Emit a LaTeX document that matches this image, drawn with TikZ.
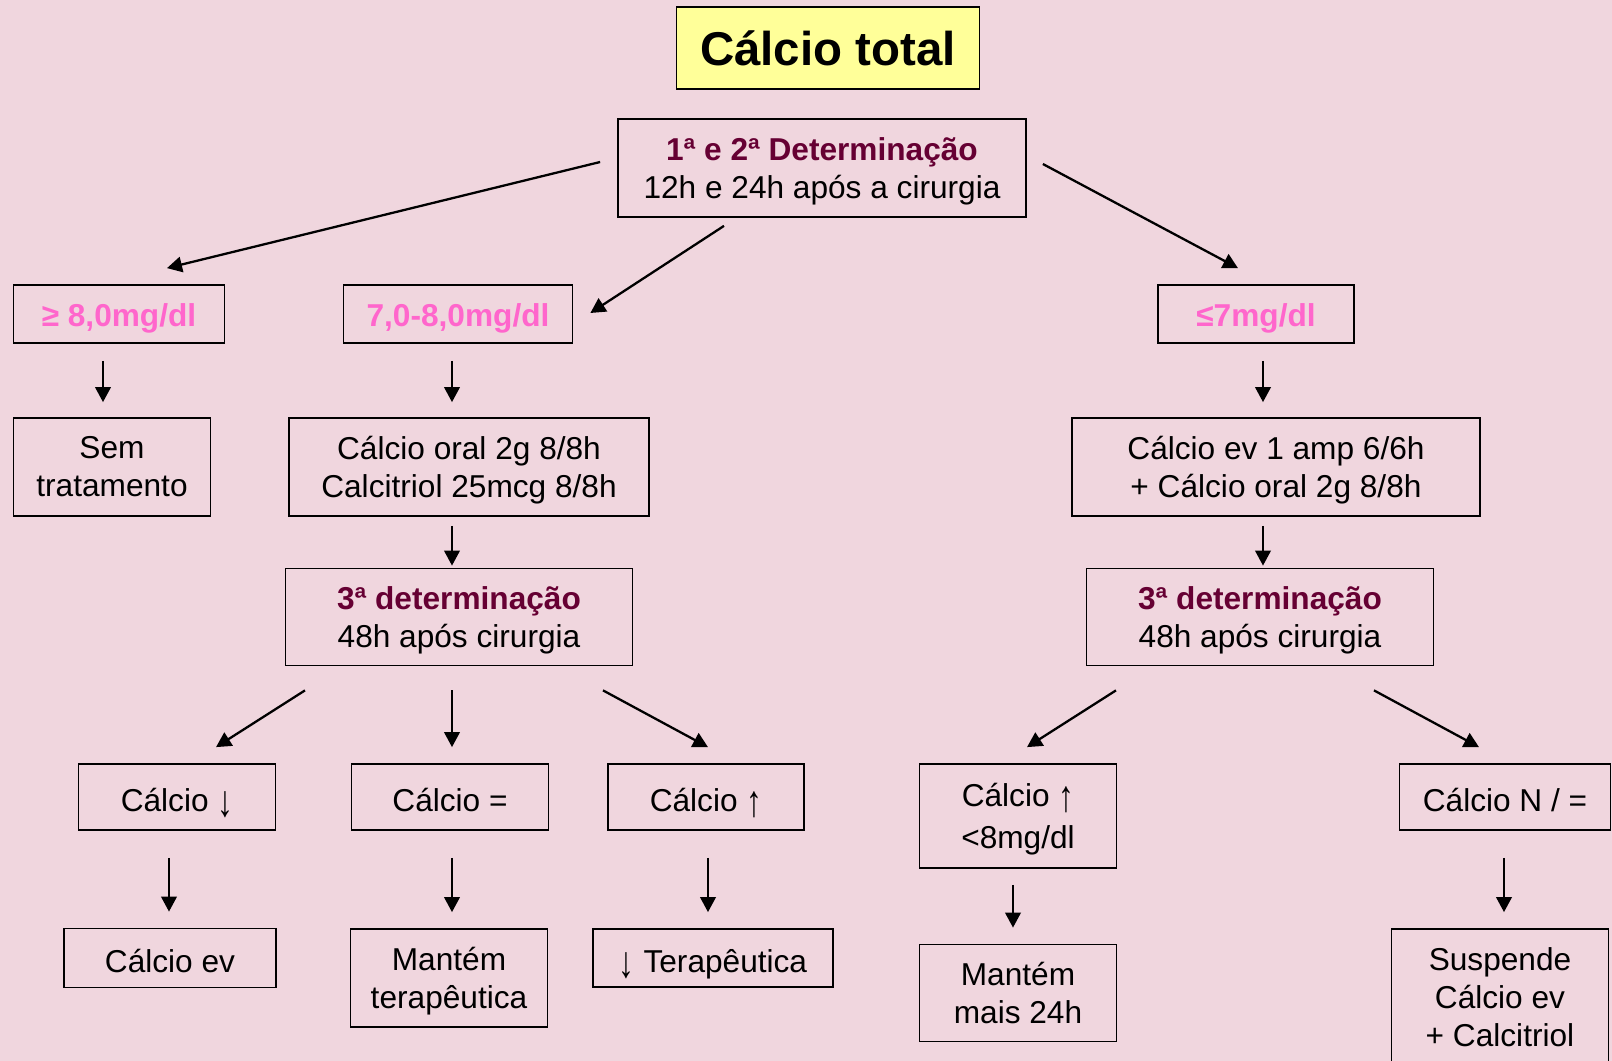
\documentclass[tikz,border=0pt]{standalone}
\usepackage{fontspec}
\setmainfont{Liberation Sans}
\usetikzlibrary{arrows.meta}
\usetikzlibrary{calc}
\definecolor{bordo}{RGB}{102,0,51}
\definecolor{rosa}{RGB}{255,102,204}
\definecolor{fundo}{RGB}{240,214,222}
\definecolor{amarelo}{RGB}{255,255,153}
\newcommand{\desce}{\raisebox{-0.17em}{\scalebox{1}[1.4]{↓}}}
\newcommand{\sobe}{\raisebox{-0.17em}{\scalebox{1}[1.4]{↑}}}
\newcommand{\linha}{\rule[-0.212em]{0pt}{1.117em}}
\tikzset{
  titulobox/.style={draw, line width=1pt, inner sep=0pt, fill=amarelo,
    font=\fontsize{27}{32}\selectfont\bfseries},
  caixa/.style={draw, line width=1pt, align=center, inner sep=0pt, text depth=0.3pt,
    font=\fontsize{18}{21.6}\selectfont\linha},
  faixa/.style={caixa, text=rosa, text depth=2.6pt, font=\fontsize{18}{21.6}\selectfont\bfseries\linha},
  seta/.style={-{Triangle[length=3mm,width=3.1mm]}, line width=1.3pt}
}
\begin{document}
\begin{tikzpicture}[x=0.2mm,y=-0.2mm]
        \fill[fundo] (0,0) rectangle (1612,1061);
        \useasboundingbox (0,0) rectangle (1612,1061);

        \node[titulobox, minimum width=60.6mm, minimum height=16.4mm] (titulo) at (828,48) {Cálcio total};
        \node[caixa, minimum width=81.6mm, minimum height=19.6mm] (det) at (822,168)
          {\textcolor{bordo}{\bfseries 1ª e 2ª Determinação}\\12h e 24h após a cirurgia};

        \node[faixa, minimum width=42.2mm, minimum height=11.6mm] (ge8) at (119,314) {≥ 8,0mg/dl};
        \node[faixa, minimum width=45.8mm, minimum height=11.6mm] (f78) at (458,314) {7,0-8,0mg/dl};
        \node[faixa, minimum width=39.2mm, minimum height=11.6mm] (le7) at (1256,314) {≤7mg/dl};

        \node[caixa, minimum width=39.4mm, minimum height=19.6mm] (semtrat) at (112,467) {Sem\\tratamento};
        \node[caixa, minimum width=72mm, minimum height=19.6mm] (oral) at (469,467)
          {Cálcio oral 2g 8/8h\\Calcitriol 25mcg 8/8h};
        \node[caixa, minimum width=81.6mm, minimum height=19.6mm] (ev) at (1276,467)
          {Cálcio ev 1 amp 6/6h\\+ Cálcio oral 2g 8/8h};

        \node[caixa, minimum width=69.4mm, minimum height=19.4mm] (tercE) at (459,617)
          {\textcolor{bordo}{\bfseries 3ª determinação}\\48h após cirurgia};
        \node[caixa, minimum width=69.4mm, minimum height=19.4mm] (tercD) at (1260,617)
          {\textcolor{bordo}{\bfseries 3ª determinação}\\48h após cirurgia};

        \node[caixa, minimum width=39.4mm, minimum height=13.2mm] (baixo) at (177,797) {Cálcio \desce};
        \node[caixa, minimum width=39.4mm, minimum height=13.2mm] (igual) at (450,797) {Cálcio =};
        \node[caixa, minimum width=39.2mm, minimum height=13.2mm] (alto) at (706,797) {Cálcio \sobe};
        \node[caixa, minimum width=39.4mm, minimum height=20.8mm] (altoD) at (1018,816) {Cálcio \sobe\\[0.8mm]<8mg/dl};
        \node[caixa, minimum width=42.2mm, minimum height=13.2mm] (normal) at (1505,797) {Cálcio N / =};

        \node[caixa, minimum width=42.4mm, minimum height=11.8mm] (calev) at (170,958) {Cálcio ev};
        \node[caixa, minimum width=39.4mm, minimum height=19.6mm] (mantem) at (449,978) {Mantém\\terapêutica};
        \node[caixa, minimum width=48mm, minimum height=11.6mm] (terap) at (713,958) {\desce{} Terapêutica};
        \node[caixa, minimum width=39.4mm, minimum height=19.4mm] (mais24) at (1018,993) {Mantém\\mais 24h};
        \node[caixa, minimum width=43.4mm, minimum height=27.2mm] (suspende) at (1500,997)
          {Suspende\\Cálcio ev\\+ Calcitriol};

        \draw[seta] ($(det.west)+(-17,-6)$) -- ($(ge8.north)+(48,-16)$);
        \draw[seta] ($(det.south)+(-98,8)$) -- ($(f78.east)+(17,-1)$);
        \draw[seta] ($(det.east)+(16,-4)$) -- ($(le7.north)+(-18,-16)$);

        \draw[seta] ($(ge8.south)+(-16,17)$) -- ($(semtrat.north)+(-9,-15)$);
        \draw[seta] ($(f78.south)+(-6,17)$) -- ($(oral.north)+(-17,-15)$);
        \draw[seta] ($(le7.south)+(7,17)$) -- ($(ev.north)+(-13,-15)$);

        \draw[seta] ($(oral.south)+(-17,9)$) -- ($(tercE.north)+(-7,-2)$);
        \draw[seta] ($(ev.south)+(-13,9)$) -- ($(tercD.north)+(3,-2)$);

        \draw[seta] ($(tercE.south)+(-154,24)$) -- ($(baixo.north)+(39,-16)$);
        \draw[seta] ($(tercE.south)+(-7,24)$) -- ($(igual.north)+(2,-16)$);
        \draw[seta] ($(tercE.south)+(144,24)$) -- ($(alto.north)+(2,-16)$);
        \draw[seta] ($(tercD.south)+(-144,24)$) -- ($(altoD.north)+(9,-16)$);
        \draw[seta] ($(tercD.south)+(114,24)$) -- ($(normal.north)+(-26,-16)$);

        \draw[seta] ($(baixo.south)+(-8,27)$) -- ($(calev.north)+(-1,-16)$);
        \draw[seta] ($(igual.south)+(2,27)$) -- ($(mantem.north)+(3,-16)$);
        \draw[seta] ($(alto.south)+(2,27)$) -- ($(terap.north)+(-5,-16)$);
        \draw[seta] ($(altoD.south)+(-5,16)$) -- ($(mais24.north)+(-5,-16)$);
        \draw[seta] ($(normal.south)+(-1,27)$) -- ($(suspende.north)+(4,-16)$);
\end{tikzpicture}
\end{document}
